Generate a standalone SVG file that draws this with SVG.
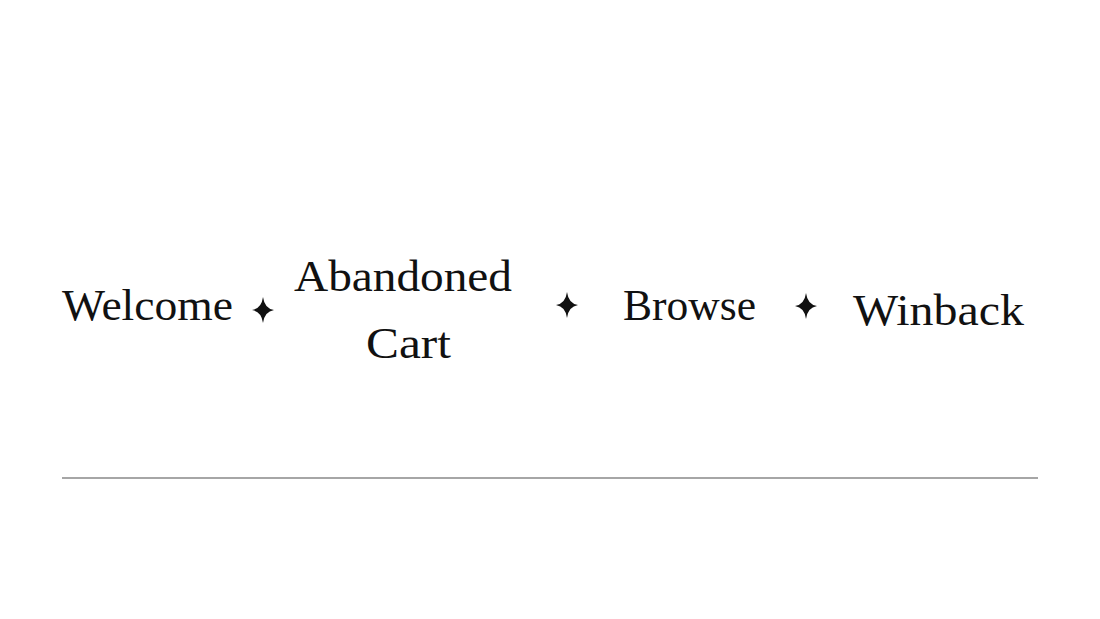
<svg xmlns="http://www.w3.org/2000/svg" width="1100" height="619" viewBox="0 0 1100 619">
<defs>
<style>
.t{font-family:"Liberation Serif",serif;font-size:44px;fill:#111;}
.s{fill:#111;}
</style>
<path id="star" d="M0,-13 Q1.5,-1.5 11,0 Q1.5,1.5 0,13 Q-1.5,1.5 -11,0 Q-1.5,-1.5 0,-13Z"/>
</defs>
<rect width="1100" height="619" fill="#fff"/>
<g id="welcome"><text class="t" x="62" y="320" textLength="171" lengthAdjust="spacingAndGlyphs">Welcome</text></g>
<g id="abandoned-cart"><text class="t" x="294" y="291" textLength="218" lengthAdjust="spacingAndGlyphs">Abandoned</text><text class="t" x="366" y="358" textLength="85" lengthAdjust="spacingAndGlyphs">Cart</text></g>
<g id="browse"><text class="t" x="623" y="320" textLength="133" lengthAdjust="spacingAndGlyphs">Browse</text></g>
<g id="winback"><text class="t" x="853" y="325" textLength="171" lengthAdjust="spacingAndGlyphs">Winback</text></g>
<g id="connectors">
<use href="#star" class="s" x="263" y="310"/>
<use href="#star" class="s" x="567" y="305"/>
<use href="#star" class="s" x="806" y="306"/>
<line x1="62" y1="478" x2="1038" y2="478" stroke="#888" stroke-width="1.3"/>
</g>
</svg>
